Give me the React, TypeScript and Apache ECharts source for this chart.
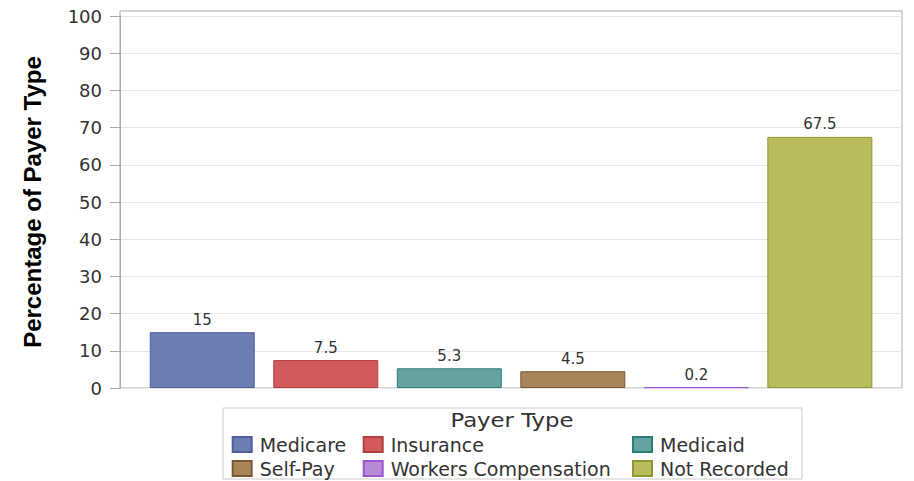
import React, { useEffect, useRef } from "react";
import * as echarts from "echarts";

const categories = ["Medicare", "Insurance", "Medicaid", "Self-Pay", "Workers Compensation", "Not Recorded"];
const values = [15, 7.5, 5.3, 4.5, 0.2, 67.5];
const fillColors = ["#6C7DB2", "#D15B5A", "#66A39E", "#A8845A", "#B98AD4", "#B9BB5C"];
const borderColors = ["#4F5F9E", "#B13E3E", "#2A7F76", "#7D5730", "#9B55D0", "#8C9930"];
const legendColumns = [
  ["Medicare", "Self-Pay"],
  ["Insurance", "Workers Compensation"],
  ["Medicaid", "Not Recorded"],
];
const yTitle = "Percentage of Payer Type";
const legendTitle = "Payer Type";

const FONT = "'DejaVu Sans', Verdana, sans-serif";
const TITLE_FONT = "'Liberation Sans', Arial, Helvetica, sans-serif";

export default function App() {
  const ref = useRef<HTMLDivElement>(null);
  useEffect(() => {
    if (!ref.current) return;
    const chart = echarts.init(ref.current, undefined, { renderer: "svg" });
    const series = categories.map((name, i) => ({
      name,
      type: "bar",
      stack: "all",
      xAxisIndex: 2,
      yAxisIndex: 2,
      barCategoryGap: "15%",
      data: categories.map((_, j) => (j === i ? values[i] : "-")),
      itemStyle: { color: fillColors[i], borderColor: borderColors[i], borderWidth: 1 },
      label: {
        show: true,
        position: "top",
        distance: 5,
        color: "#333",
        fontSize: 15,
        fontFamily: FONT,
      },
    }));
    const legendLefts = [231.7, 362.7, 632];
    const legends = legendColumns.map((col, k) => ({
      orient: "vertical",
      left: legendLefts[k],
      top: 435,
      width: 260,
      height: 80,
      itemWidth: 19,
      itemHeight: 15,
      itemGap: 5,
      padding: 0,
      icon: "rect",
      data: col,
      selectedMode: false,
      textStyle: {
        fontSize: 19,
        color: "#333",
        fontFamily: FONT,
        padding: [0, 0, 0, 3],
      },
    }));
    chart.setOption({
      animation: false,
      textStyle: { fontFamily: FONT },
      grid: [
        { left: 120, right: 12, top: 11, bottom: 93, show: true, borderColor: "#aaa", borderWidth: 1, backgroundColor: "transparent" },
        { left: 120, right: 12, top: 16, bottom: 93 },
        { left: 140.5, right: 32.4, top: 16, bottom: 93 },
      ],
      xAxis: [
        { type: "value", gridIndex: 0, show: false },
        { type: "value", gridIndex: 1, show: false },
        { type: "category", gridIndex: 2, data: categories, show: false },
      ],
      yAxis: [
        { type: "value", gridIndex: 0, show: false },
        {
          type: "value",
          gridIndex: 1,
          min: 0,
          max: 100,
          interval: 10,
          name: yTitle,
          nameLocation: "middle",
          nameGap: 76,
          nameTextStyle: { fontSize: 24, fontWeight: "bold", color: "#000", fontFamily: TITLE_FONT },
          axisLine: { show: true, lineStyle: { color: "#aaa" } },
          axisTick: { show: true, length: 10, lineStyle: { color: "#aaa" } },
          axisLabel: { fontSize: 18, color: "#333", margin: 18, fontFamily: FONT },
          splitLine: { show: true, lineStyle: { color: "#e6e6e6" } },
        },
        { type: "value", gridIndex: 2, min: 0, max: 100, show: false, splitLine: { show: false } },
      ],
      legend: legends,
      graphic: [
        {
          type: "rect",
          shape: { x: 223, y: 408, width: 579, height: 71 },
          style: { fill: "none", stroke: "#ccc", lineWidth: 1 },
          silent: true,
        },
        {
          type: "text",
          x: 512,
          y: 421,
          scaleX: 1.2,
          style: {
            text: legendTitle,
            fontSize: 19,
            fill: "#333",
            fontFamily: FONT,
            align: "center",
            verticalAlign: "middle",
          },
          silent: true,
        },
      ],
      series,
    });
    return () => chart.dispose();
  }, []);
  return (
    <div
      ref={ref}
      style={{ position: "fixed", left: 0, top: 0, width: 914, height: 481, background: "#fff" }}
    />
  );
}
